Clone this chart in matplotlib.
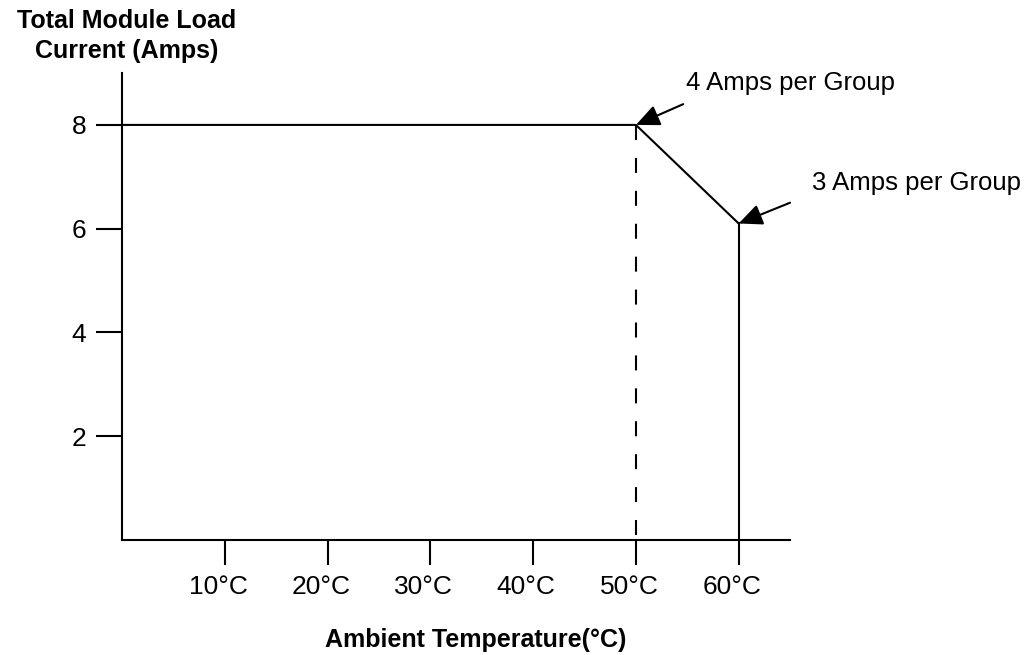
import matplotlib
matplotlib.use("Agg")
import matplotlib.pyplot as plt
import matplotlib.transforms as mtransforms

plt.rcParams["font.family"] = ["Liberation Sans", "DejaVu Sans"]

# derating curve: total module load current vs ambient temperature
temp = [0, 50, 60]
current = [8, 8, 6.1]
max_temp = 60
knee_temp = 50

x_ticks = [10, 20, 30, 40, 50, 60]
x_labels = ["10°C", "20°C", "30°C", "40°C", "50°C", "60°C"]
y_ticks = [2, 4, 6, 8]

notes = ["4 Amps per Group", "3 Amps per Group"]
note_tips = [(50, 8), (60, 6.1)]
note_tails = [(54.6, 8.4), (65.0, 6.5)]
note_text_pos = [(54.9, 8.8), (67.1, 6.88)]

fig = plt.figure(figsize=(10.28, 6.55), dpi=100)
ax = fig.add_axes([0.119, 0.1756, 0.6495, 0.7129])

lw = 1.5
ax.plot(temp, current, color="black", lw=lw)
ax.plot([max_temp, max_temp], [current[-1], 0], color="black", lw=lw)
ax.plot([knee_temp, knee_temp], [current[1], 0], color="black", lw=lw,
        linestyle=(0, (7.2, 8.6)))

ax.set_xlim(0, 65)
ax.set_ylim(0, 9)
ax.spines["top"].set_visible(False)
ax.spines["right"].set_visible(False)
for s in ("left", "bottom"):
    ax.spines[s].set_linewidth(lw)

ax.set_xticks(x_ticks)
ax.set_xticklabels(x_labels, fontsize=19)
ax.set_yticks(y_ticks)
ax.set_yticklabels([str(v) for v in y_ticks], fontsize=19)
ax.tick_params(axis="x", direction="out", length=18, width=lw, pad=7)
ax.tick_params(axis="y", direction="out", length=19, width=lw, pad=7)

# x labels sit a little left of their ticks in the original
shift = mtransforms.ScaledTranslation(-5 / 72, 0, fig.dpi_scale_trans)
for lab in ax.get_xticklabels():
    lab.set_transform(lab.get_transform() + shift)

for txt, tip, tail, pos in zip(notes, note_tips, note_tails, note_text_pos):
    ax.annotate("", xy=tip, xytext=tail, annotation_clip=False,
                arrowprops=dict(arrowstyle="-|>,head_length=1.0,head_width=0.45",
                                mutation_scale=14.4, color="black", lw=lw,
                                shrinkA=0, shrinkB=0))
    ax.text(pos[0], pos[1], txt, fontsize=18.5, ha="left", va="center",
            clip_on=False)

fig.text(127 / 1028, 1 - 36 / 655, "Total Module Load\nCurrent (Amps)",
         fontsize=18, fontweight="bold", ha="center", va="center",
         linespacing=1.35)
fig.text(476 / 1028, 1 - 640 / 655, "Ambient Temperature(°C)",
         fontsize=18, fontweight="bold", ha="center", va="center")

fig.savefig("out.png", dpi=100)
